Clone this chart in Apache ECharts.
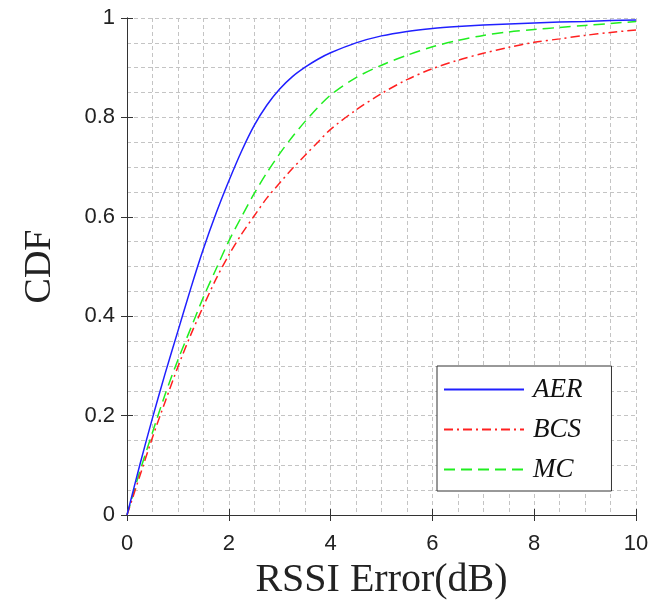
<!DOCTYPE html>
<html>
<head>
<meta charset="utf-8">
<script src="https://cdn.jsdelivr.net/npm/echarts@6/dist/echarts.min.js"></script>
<style>
html,body{margin:0;padding:0;background:#fff;}
#chart{width:667px;height:605px;}
</style>
</head>
<body>
<div id="chart"></div>
<script>
var xValues = [0,0.25,0.5,0.75,1,1.25,1.5,1.75,2,2.25,2.5,2.75,3,3.25,3.5,3.75,4,4.5,5,5.5,6,6.5,7,7.5,8,8.5,9,9.5,10];
var aerValues = [0,0.1,0.195,0.285,0.37,0.455,0.535,0.607,0.672,0.732,0.784,0.825,0.857,0.882,0.901,0.917,0.93,0.95,0.964,0.973,0.979,0.983,0.986,0.988,0.99,0.992,0.993,0.995,0.996];
var bcsValues = [0,0.078,0.156,0.228,0.298,0.362,0.42,0.475,0.523,0.565,0.602,0.638,0.668,0.697,0.724,0.75,0.776,0.815,0.848,0.876,0.898,0.915,0.929,0.941,0.951,0.958,0.965,0.971,0.976];
var mcValues = [0,0.087,0.166,0.243,0.312,0.375,0.438,0.495,0.551,0.6,0.647,0.689,0.727,0.761,0.792,0.82,0.845,0.88,0.905,0.925,0.942,0.955,0.965,0.972,0.977,0.981,0.985,0.989,0.993];
var seriesNames = ['AER','BCS','MC'];
var xAxisName = 'RSSI Error(dB)';
var yAxisName = 'CDF';

function pairs(ys){ return xValues.map(function(x,i){ return [x, ys[i]]; }); }

var gridLine = {show:true, lineStyle:{color:'#c4c4c4', width:1, type:[4,3]}};
var axisLineStyle = {show:true, lineStyle:{color:'#333', width:1}};
var tickStyle = {show:true, inside:true, length:6, lineStyle:{color:'#333', width:1}};
var labelFont = {fontFamily:'Liberation Sans, Arial, sans-serif', fontSize:22, color:'#222'};

var chart = echarts.init(document.getElementById('chart'), null, {renderer:'canvas'});
chart.setOption({
  animation:false,
  backgroundColor:'#fff',
  grid:{left:127, right:31, top:18, bottom:89, show:false},
  legend:{
    orient:'vertical', left:437, top:366,
    backgroundColor:'#fff', borderColor:'#333', borderWidth:1,
    padding:[10,29,8,6],
    itemWidth:80, itemHeight:26, itemGap:13,
    itemStyle:{opacity:0},
    textStyle:{fontFamily:'Liberation Serif, Times New Roman, serif', fontStyle:'italic', fontSize:27, color:'#111', lineHeight:26, padding:[0,0,0,4]},
    data:seriesNames
  },
  xAxis:[{
    type:'value', min:0, max:10, interval:2, position:'bottom',
    name:xAxisName, nameLocation:'middle', nameGap:45,
    nameTextStyle:{fontFamily:'Liberation Serif, Times New Roman, serif', fontSize:40, color:'#222'},
    axisLine:axisLineStyle, axisTick:tickStyle,
    axisLabel:Object.assign({margin:18}, labelFont),
    splitLine:gridLine,
    minorTick:{show:false, splitNumber:4},
    minorSplitLine:gridLine
  },{
    type:'value', min:0, max:10, interval:2, position:'top',
    axisLine:axisLineStyle, axisTick:tickStyle, axisLabel:{show:false}, splitLine:{show:false}
  }],
  yAxis:[{
    type:'value', min:0, max:1, interval:0.2, position:'left',
    name:yAxisName, nameLocation:'middle', nameGap:68,
    nameTextStyle:{fontFamily:'Liberation Serif, Times New Roman, serif', fontSize:38, color:'#222'},
    axisLine:axisLineStyle, axisTick:tickStyle,
    axisLabel:Object.assign({margin:12}, labelFont),
    splitLine:gridLine,
    minorTick:{show:false, splitNumber:4},
    minorSplitLine:gridLine
  },{
    type:'value', min:0, max:1, interval:0.2, position:'right',
    axisLine:axisLineStyle, axisTick:tickStyle, axisLabel:{show:false}, splitLine:{show:false}
  }],
  series:[
    {name:seriesNames[0], type:'line', data:pairs(aerValues), showSymbol:false, symbol:'none', smooth:0.3,
     color:'#2020ff', lineStyle:{color:'#2020ff', width:1.5, type:'solid'}, z:5},
    {name:seriesNames[1], type:'line', data:pairs(bcsValues), showSymbol:false, symbol:'none', smooth:0.3,
     color:'#ff2020', lineStyle:{color:'#ff2020', width:1.5, type:[9,4,2,4]}, z:4},
    {name:seriesNames[2], type:'line', data:pairs(mcValues), showSymbol:false, symbol:'none', smooth:0.3,
     color:'#20ee20', lineStyle:{color:'#20ee20', width:1.5, type:[11,6]}, z:3}
  ]
});
</script>
</body>
</html>
